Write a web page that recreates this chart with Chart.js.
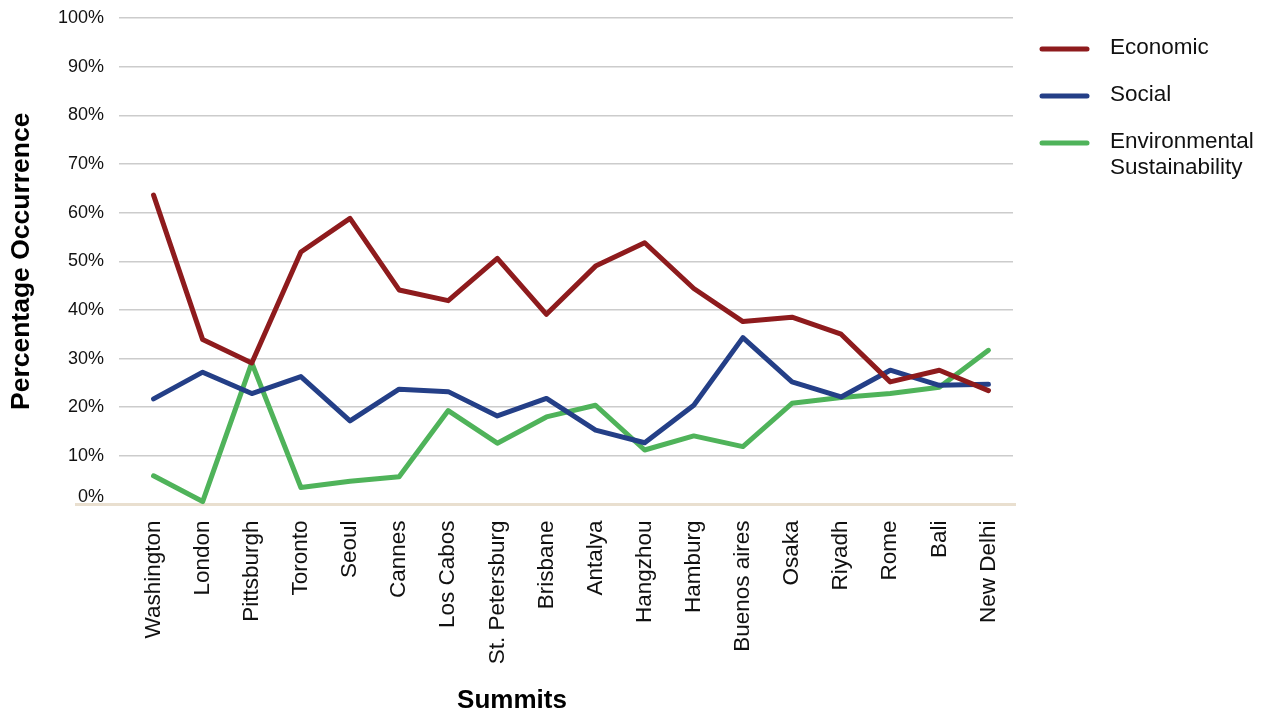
<!DOCTYPE html>
<html>
<head>
<meta charset="utf-8">
<title>G20 Summits – Percentage Occurrence</title>
<script src="https://cdn.jsdelivr.net/npm/chart.js@4.4.1/dist/chart.umd.min.js"></script>
<style>
  html, body { margin: 0; padding: 0; background: #ffffff; }
  #wrap { position: relative; width: 1263px; height: 715px; }
</style>
</head>
<body>
<div id="wrap"><canvas id="chart" width="1263" height="715"></canvas></div>
<script>
// Summit host cities, in chronological order
const summits = ['Washington', 'London', 'Pittsburgh', 'Toronto', 'Seoul', 'Cannes', 'Los Cabos',
  'St. Petersburg', 'Brisbane', 'Antalya', 'Hangzhou', 'Hamburg', 'Buenos aires', 'Osaka',
  'Riyadh', 'Rome', 'Bali', 'New Delhi'];

// Share of each theme in the summit declarations (%)
const economic = [63.6, 33.9, 29.1, 51.9, 58.8, 44.1, 41.9, 50.6, 39.1, 49.0, 53.8, 44.4, 37.6, 38.5, 35.0, 25.2, 27.6, 23.4];
const social = [21.7, 27.2, 22.8, 26.3, 17.2, 23.7, 23.2, 18.2, 21.8, 15.3, 12.7, 20.4, 34.3, 25.2, 22.1, 27.6, 24.5, 24.7];
const environmental = [5.9, 0.6, 29.1, 3.5, 4.8, 5.7, 19.3, 12.6, 18.0, 20.4, 11.2, 14.1, 11.9, 20.8, 22.0, 22.8, 24.1, 31.7];

const seriesNames = ['Economic', 'Social', ['Environmental', 'Sustainability']];
const yTicks = [0, 10, 20, 30, 40, 50, 60, 70, 80, 90, 100];

const FONT = '"Liberation Sans", Arial, Helvetica, sans-serif';
const COLORS = ['#8e1b1d', '#243f87', '#4fb35a'];
const TICK_SIZE = 18;

// Beige zero baseline running under the plot, with its label sitting above it
const baselinePlugin = {
  id: 'baseline',
  beforeDatasetsDraw(chart) {
    const { ctx, chartArea, scales } = chart;
    const y = scales.y.getPixelForValue(0);
    ctx.save();
    ctx.strokeStyle = '#e9dfcf';
    ctx.lineWidth = 3;
    ctx.beginPath();
    ctx.moveTo(75, y);
    ctx.lineTo(chartArea.right + 3, y);
    ctx.stroke();
    ctx.fillStyle = '#111111';
    ctx.font = TICK_SIZE + 'px ' + FONT;
    ctx.textAlign = 'right';
    ctx.textBaseline = 'middle';
    ctx.fillText(yTicks[0] + '%', chartArea.left - 25, y - 7);
    ctx.restore();
  }
};

// Legend on the right and the x-axis title
const sideLegendPlugin = {
  id: 'sideLegend',
  afterDraw(chart) {
    const { ctx } = chart;
    ctx.save();
    const rows = [49, 96, 143];
    chart.data.datasets.forEach((ds, i) => {
      const y = rows[i];
      ctx.strokeStyle = ds.borderColor;
      ctx.lineWidth = 5;
      ctx.lineCap = 'round';
      ctx.beginPath();
      ctx.moveTo(1042, y);
      ctx.lineTo(1087, y);
      ctx.stroke();
      ctx.fillStyle = '#111111';
      ctx.font = '22.5px ' + FONT;
      ctx.textAlign = 'left';
      ctx.textBaseline = 'middle';
      const lines = Array.isArray(ds.label) ? ds.label : [ds.label];
      lines.forEach((t, k) => ctx.fillText(t, 1110, y - 1 + k * 26));
    });
    ctx.fillStyle = '#000000';
    ctx.font = 'bold 26px ' + FONT;
    ctx.textAlign = 'center';
    ctx.textBaseline = 'middle';
    ctx.fillText('Summits', 512, 701);
    ctx.restore();
  }
};

const mk = (label, data, color) => ({
  label, data,
  borderColor: color,
  backgroundColor: color,
  borderWidth: 5,
  pointRadius: 0,
  pointHoverRadius: 0,
  tension: 0,
  borderCapStyle: 'round',
  borderJoinStyle: 'round',
  fill: false
});

new Chart(document.getElementById('chart'), {
  type: 'line',
  data: {
    labels: summits,
    datasets: [
      mk(seriesNames[0], economic, COLORS[0]),
      mk(seriesNames[1], social, COLORS[1]),
      mk(seriesNames[2], environmental, COLORS[2])
    ]
  },
  options: {
    responsive: false,
    animation: false,
    events: [],
    layout: { padding: { left: 0, right: 250, top: 18, bottom: 0 } },
    plugins: {
      legend: { display: false },
      tooltip: { enabled: false }
    },
    scales: {
      x: {
        type: 'category',
        offset: true,
        grid: { display: false, drawTicks: false },
        border: { display: false },
        ticks: {
          autoSkip: false,
          maxRotation: 90,
          minRotation: 90,
          padding: 16,
          color: '#111111',
          font: { family: FONT, size: 22.5 }
        },
        afterFit(scale) {
          scale.height = 210.5;
          scale.paddingLeft = 0;
          scale.paddingRight = 0;
        }
      },
      y: {
        min: 0,
        max: 100,
        afterBuildTicks(scale) { scale.ticks = yTicks.map(v => ({ value: v })); },
        grid: {
          color: ctx => (ctx.tick && ctx.tick.value === 0) ? 'rgba(0,0,0,0)' : '#cccccc',
          lineWidth: 1.5,
          drawTicks: true,
          tickLength: 10
        },
        border: { display: false },
        ticks: {
          padding: 15,
          color: '#111111',
          font: { family: FONT, size: TICK_SIZE },
          callback: v => v === 0 ? '' : v + '%'
        },
        title: {
          display: true,
          text: 'Percentage Occurrence',
          color: '#000000',
          font: { family: FONT, size: 26.5, weight: 'bold', lineHeight: 1.2 },
          padding: { top: 6, bottom: 0 }
        },
        afterFit(scale) {
          scale.width = 129;
          scale.paddingTop = 0;
          scale.paddingBottom = 0;
        }
      }
    }
  },
  plugins: [baselinePlugin, sideLegendPlugin]
});
</script>
</body>
</html>
